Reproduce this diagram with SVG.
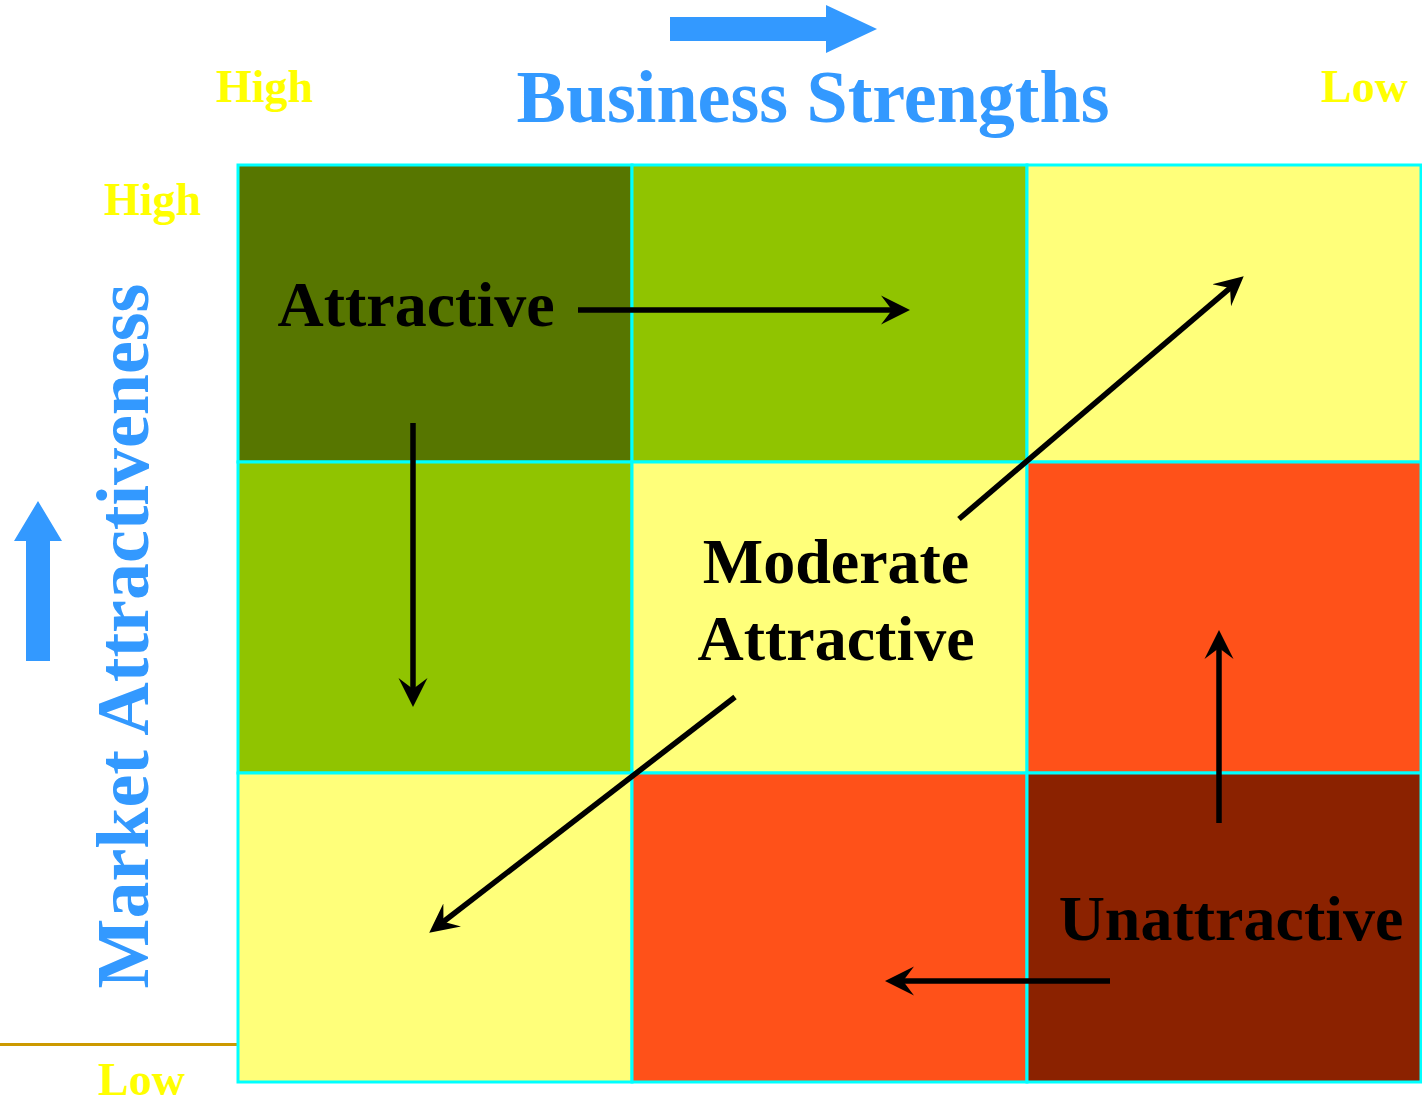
<svg xmlns="http://www.w3.org/2000/svg" width="1422" height="1103" viewBox="0 0 1422 1103">
  <style>
    .cell { stroke: #00FFFF; stroke-width: 3; }
    .lbl { font-family: "Liberation Serif", "Times New Roman", serif; font-weight: bold; }
    .axis { fill: #3399FF; font-size: 74px; }
    .tick { fill: #FFFF00; font-size: 46px; }
    .zone { fill: #000000; font-size: 64px; text-anchor: middle; }
    .conn { stroke: #000000; stroke-width: 5.5; fill: none; marker-end: url(#head); }
  </style>
  <defs>
    <marker id="head" markerUnits="userSpaceOnUse" markerWidth="30" markerHeight="30" viewBox="0 0 30 30" refX="14" refY="15" orient="auto">
      <path d="M0,0.5 L29,15 L0,29.5 L11,15 Z" fill="#000000"/>
    </marker>
  </defs>
  <rect width="1422" height="1103" fill="#FFFFFF"/>

  <!-- axis direction arrows -->
  <g id="arrow-x">
    <polygon points="670,17 826,17 826,5 877,29 826,53 826,41 670,41" fill="#3399FF"/>
  </g>
  <g id="arrow-y">
    <polygon points="26,661 26,541 14,541 38,501 62,541 50,541 50,661" fill="#3399FF"/>
  </g>

  <!-- axis titles and extremes -->
  <g id="title-x"><text class="lbl axis" x="813" y="122" text-anchor="middle">Business Strengths</text></g>
  <g id="title-y"><text class="lbl axis" transform="translate(148,636) rotate(-90)" text-anchor="middle">Market Attractiveness</text></g>
  <g id="x-high"><text class="lbl tick" x="216" y="102">High</text></g>
  <g id="x-low"><text class="lbl tick" x="1321" y="102">Low</text></g>
  <g id="y-high"><text class="lbl tick" x="104" y="215">High</text></g>
  <g id="y-low"><text class="lbl tick" x="98" y="1095">Low</text></g>
  <line x1="0" y1="1044.5" x2="237" y2="1044.5" stroke="#CC9900" stroke-width="3"/>

  <!-- 3x3 grid -->
  <g id="grid">
    <rect id="cell-1-1" class="cell" x="238" y="165" width="394" height="297" fill="#577600"/>
    <rect id="cell-1-2" class="cell" x="632" y="165" width="395" height="297" fill="#90C400"/>
    <rect id="cell-1-3" class="cell" x="1027" y="165" width="394" height="297" fill="#FFFF7A"/>
    <rect id="cell-2-1" class="cell" x="238" y="462" width="394" height="311" fill="#90C400"/>
    <rect id="cell-2-2" class="cell" x="632" y="462" width="395" height="311" fill="#FFFF7A"/>
    <rect id="cell-2-3" class="cell" x="1027" y="462" width="394" height="311" fill="#FF5119"/>
    <rect id="cell-3-1" class="cell" x="238" y="773" width="394" height="309" fill="#FFFF7A"/>
    <rect id="cell-3-2" class="cell" x="632" y="773" width="395" height="309" fill="#FF5119"/>
    <rect id="cell-3-3" class="cell" x="1027" y="773" width="394" height="309" fill="#8B2200"/>
  </g>

  <!-- zone labels -->
  <g id="attractive"><text class="lbl zone" x="416" y="326">Attractive</text></g>
  <g id="moderate"><text class="lbl zone" x="836" y="583">Moderate</text><text class="lbl zone" x="836" y="660">Attractive</text></g>
  <g id="unattractive"><text class="lbl zone" x="1231" y="940">Unattractive</text></g>

  <!-- movement connectors -->
  <g id="connectors">
    <line class="conn" x1="578" y1="310" x2="895" y2="310"/>
    <line class="conn" x1="413" y1="423" x2="413" y2="692"/>
    <line class="conn" x1="959" y1="519" x2="1232.3" y2="286.1"/>
    <line class="conn" x1="735" y1="697" x2="441.1" y2="923.5"/>
    <line class="conn" x1="1219" y1="823" x2="1219" y2="645"/>
    <line class="conn" x1="1110" y1="981" x2="900" y2="981"/>
  </g>
</svg>
